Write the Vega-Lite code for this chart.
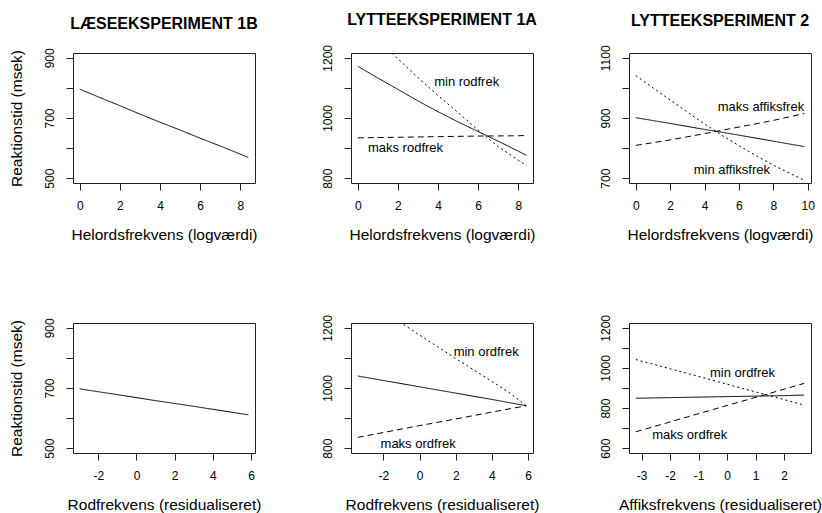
{
  "$schema": "https://vega.github.io/schema/vega-lite/v6.json",
  "background": "white",
  "padding": {"left": 8, "top": 11, "right": 5, "bottom": 5},
  "config": {
    "font": "Liberation Sans",
    "view": {"stroke": "#222", "strokeWidth": 1},
    "axis": {"grid": false, "domain": false, "ticks": true, "tickSize": 7, "tickColor": "#222", "labelFont": "Liberation Sans", "labelFontSize": 12, "labelColor": "#000", "titleFont": "Liberation Sans", "titleFontSize": 15.5, "titleFontWeight": "normal", "titleColor": "#000", "format": "d"},
    "axisX": {"labelPadding": 10, "titlePadding": 16},
    "axisY": {"labelAngle": -90, "labelAlign": "center", "labelBaseline": "bottom", "labelPadding": 10, "titlePadding": 19},
    "title": {"fontSize": 16, "font": "Liberation Sans", "fontWeight": "bold", "offset": 16, "color": "#000", "anchor": "middle"},
    "text": {"font": "Liberation Sans", "fontSize": 13, "color": "#000"}
  },
  "datasets": {
    "lines": [
      {"panel": "p1", "style": "solid", "x": 0, "y": 796}, {"panel": "p1", "style": "solid", "x": 1, "y": 768}, {"panel": "p1", "style": "solid", "x": 2, "y": 741}, {"panel": "p1", "style": "solid", "x": 3, "y": 713}, {"panel": "p1", "style": "solid", "x": 4, "y": 686}, {"panel": "p1", "style": "solid", "x": 5, "y": 660}, {"panel": "p1", "style": "solid", "x": 6, "y": 633}, {"panel": "p1", "style": "solid", "x": 7, "y": 607}, {"panel": "p1", "style": "solid", "x": 8, "y": 580}, {"panel": "p1", "style": "solid", "x": 8.4, "y": 569},
      {"panel": "p2", "style": "solid", "x": 0, "y": 1172}, {"panel": "p2", "style": "solid", "x": 1, "y": 1133}, {"panel": "p2", "style": "solid", "x": 2, "y": 1095}, {"panel": "p2", "style": "solid", "x": 3, "y": 1057}, {"panel": "p2", "style": "solid", "x": 4, "y": 1021}, {"panel": "p2", "style": "solid", "x": 5, "y": 987}, {"panel": "p2", "style": "solid", "x": 6, "y": 955}, {"panel": "p2", "style": "solid", "x": 7, "y": 923}, {"panel": "p2", "style": "solid", "x": 8, "y": 890}, {"panel": "p2", "style": "solid", "x": 8.4, "y": 876},
      {"panel": "p2", "style": "dotted", "x": 1, "y": 1262}, {"panel": "p2", "style": "dotted", "x": 2, "y": 1197}, {"panel": "p2", "style": "dotted", "x": 3, "y": 1134}, {"panel": "p2", "style": "dotted", "x": 4, "y": 1075}, {"panel": "p2", "style": "dotted", "x": 5, "y": 1018}, {"panel": "p2", "style": "dotted", "x": 6, "y": 960}, {"panel": "p2", "style": "dotted", "x": 7, "y": 905}, {"panel": "p2", "style": "dotted", "x": 8, "y": 860}, {"panel": "p2", "style": "dotted", "x": 8.4, "y": 843},
      {"panel": "p2", "style": "dashed", "x": 0, "y": 934}, {"panel": "p2", "style": "dashed", "x": 2, "y": 936}, {"panel": "p2", "style": "dashed", "x": 4, "y": 938}, {"panel": "p2", "style": "dashed", "x": 6, "y": 940}, {"panel": "p2", "style": "dashed", "x": 8, "y": 941}, {"panel": "p2", "style": "dashed", "x": 8.4, "y": 942},
      {"panel": "p3", "style": "dotted", "x": 0, "y": 1041}, {"panel": "p3", "style": "dotted", "x": 1, "y": 1000}, {"panel": "p3", "style": "dotted", "x": 2, "y": 960}, {"panel": "p3", "style": "dotted", "x": 3, "y": 920}, {"panel": "p3", "style": "dotted", "x": 4, "y": 880}, {"panel": "p3", "style": "dotted", "x": 5, "y": 843}, {"panel": "p3", "style": "dotted", "x": 6, "y": 808}, {"panel": "p3", "style": "dotted", "x": 7, "y": 775}, {"panel": "p3", "style": "dotted", "x": 8, "y": 743}, {"panel": "p3", "style": "dotted", "x": 9, "y": 715}, {"panel": "p3", "style": "dotted", "x": 9.8, "y": 693},
      {"panel": "p3", "style": "solid", "x": 0, "y": 901}, {"panel": "p3", "style": "solid", "x": 2, "y": 882}, {"panel": "p3", "style": "solid", "x": 4, "y": 862}, {"panel": "p3", "style": "solid", "x": 6, "y": 843}, {"panel": "p3", "style": "solid", "x": 8, "y": 823}, {"panel": "p3", "style": "solid", "x": 9.8, "y": 805},
      {"panel": "p3", "style": "dashed", "x": 0, "y": 809}, {"panel": "p3", "style": "dashed", "x": 2, "y": 827}, {"panel": "p3", "style": "dashed", "x": 4, "y": 848}, {"panel": "p3", "style": "dashed", "x": 6, "y": 870}, {"panel": "p3", "style": "dashed", "x": 8, "y": 892}, {"panel": "p3", "style": "dashed", "x": 9.8, "y": 915},
      {"panel": "p4", "style": "solid", "x": -2.97, "y": 697}, {"panel": "p4", "style": "solid", "x": -1, "y": 678}, {"panel": "p4", "style": "solid", "x": 1, "y": 658}, {"panel": "p4", "style": "solid", "x": 3, "y": 639}, {"panel": "p4", "style": "solid", "x": 5.85, "y": 611},
      {"panel": "p5", "style": "solid", "x": -3.42, "y": 1040}, {"panel": "p5", "style": "solid", "x": -2, "y": 1025}, {"panel": "p5", "style": "solid", "x": 0, "y": 1004}, {"panel": "p5", "style": "solid", "x": 2, "y": 983}, {"panel": "p5", "style": "solid", "x": 4, "y": 962}, {"panel": "p5", "style": "solid", "x": 5.9, "y": 941},
      {"panel": "p5", "style": "dotted", "x": -3.42, "y": 1312}, {"panel": "p5", "style": "dotted", "x": -2, "y": 1255}, {"panel": "p5", "style": "dotted", "x": 0, "y": 1176}, {"panel": "p5", "style": "dotted", "x": 2, "y": 1098}, {"panel": "p5", "style": "dotted", "x": 4, "y": 1022}, {"panel": "p5", "style": "dotted", "x": 5, "y": 983}, {"panel": "p5", "style": "dotted", "x": 5.9, "y": 941},
      {"panel": "p5", "style": "dashed", "x": -3.42, "y": 836}, {"panel": "p5", "style": "dashed", "x": -2, "y": 852}, {"panel": "p5", "style": "dashed", "x": 0, "y": 875}, {"panel": "p5", "style": "dashed", "x": 2, "y": 897}, {"panel": "p5", "style": "dashed", "x": 4, "y": 920}, {"panel": "p5", "style": "dashed", "x": 5.9, "y": 941},
      {"panel": "p6", "style": "dotted", "x": -3.2, "y": 1042}, {"panel": "p6", "style": "dotted", "x": -2, "y": 996}, {"panel": "p6", "style": "dotted", "x": 0, "y": 919}, {"panel": "p6", "style": "dotted", "x": 2, "y": 842}, {"panel": "p6", "style": "dotted", "x": 2.7, "y": 815},
      {"panel": "p6", "style": "solid", "x": -3.2, "y": 849}, {"panel": "p6", "style": "solid", "x": -2, "y": 852}, {"panel": "p6", "style": "solid", "x": 0, "y": 857}, {"panel": "p6", "style": "solid", "x": 2, "y": 862}, {"panel": "p6", "style": "solid", "x": 2.7, "y": 865},
      {"panel": "p6", "style": "dashed", "x": -3.2, "y": 682}, {"panel": "p6", "style": "dashed", "x": -2, "y": 731}, {"panel": "p6", "style": "dashed", "x": 0, "y": 813}, {"panel": "p6", "style": "dashed", "x": 2, "y": 894}, {"panel": "p6", "style": "dashed", "x": 2.7, "y": 923}
    ],
    "labels": [
      {"panel": "p2", "label": "min rodfrek", "x": 5.43, "y": 1120},
      {"panel": "p2", "label": "maks rodfrek", "x": 2.38, "y": 899},
      {"panel": "p3", "label": "maks affiksfrek", "x": 7.28, "y": 938},
      {"panel": "p3", "label": "min affiksfrek", "x": 5.59, "y": 726},
      {"panel": "p5", "label": "min ordfrek", "x": 3.68, "y": 1121},
      {"panel": "p5", "label": "maks ordfrek", "x": -0.08, "y": 813},
      {"panel": "p6", "label": "min ordfrek", "x": 0.54, "y": 973},
      {"panel": "p6", "label": "maks ordfrek", "x": -1.31, "y": 667}
    ]
  },
  "columns": 3,
  "spacing": {"row": 140, "column": 96},
  "bounds": "flush",
  "concat": [
    {
      "title": "LÆSEEKSPERIMENT 1B",
      "width": 182, "height": 130,
      "encoding": {
        "x": {"field": "x", "type": "quantitative", "scale": {"domain": [-0.336, 8.736], "nice": false, "zero": false}, "axis": {"values": [0, 2, 4, 6, 8], "title": "Helordsfrekvens (logværdi)"}},
        "y": {"field": "y", "type": "quantitative", "scale": {"domain": [484, 916], "nice": false, "zero": false}, "axis": {"values": [500, 600, 700, 800, 900], "labelExpr": "datum.value % 200 == 0 ? '' : datum.label", "title": "Reaktionstid (msek)"}}
      },
      "layer": [
        {"data": {"name": "lines"}, "transform": [{"filter": "datum.panel == 'p1'"}], "mark": {"type": "line", "color": "#000", "strokeWidth": 1, "clip": true},
         "encoding": {"strokeDash": {"field": "style", "type": "nominal", "scale": {"domain": ["solid", "dashed", "dotted"], "range": [[1, 0], [6, 4], [2, 3]]}, "legend": null}}}
      ]
    },
    {
      "title": "LYTTEEKSPERIMENT 1A",
      "width": 182, "height": 130,
      "encoding": {
        "x": {"field": "x", "type": "quantitative", "scale": {"domain": [-0.336, 8.736], "nice": false, "zero": false}, "axis": {"values": [0, 2, 4, 6, 8], "title": "Helordsfrekvens (logværdi)"}},
        "y": {"field": "y", "type": "quantitative", "scale": {"domain": [784, 1216], "nice": false, "zero": false}, "axis": {"values": [800, 900, 1000, 1100, 1200], "labelExpr": "datum.value % 200 == 100 ? '' : datum.label", "title": null}}
      },
      "layer": [
        {"data": {"name": "lines"}, "transform": [{"filter": "datum.panel == 'p2'"}], "mark": {"type": "line", "color": "#000", "strokeWidth": 1, "clip": true},
         "encoding": {"strokeDash": {"field": "style", "type": "nominal", "scale": {"domain": ["solid", "dashed", "dotted"], "range": [[1, 0], [6, 4], [2, 3]]}, "legend": null}}},
        {"data": {"name": "labels"}, "transform": [{"filter": "datum.panel == 'p2'"}], "mark": {"type": "text", "align": "center", "baseline": "middle"},
         "encoding": {"text": {"field": "label", "type": "nominal"}}}
      ]
    },
    {
      "title": "LYTTEEKSPERIMENT 2",
      "width": 182, "height": 130,
      "encoding": {
        "x": {"field": "x", "type": "quantitative", "scale": {"domain": [-0.392, 10.192], "nice": false, "zero": false}, "axis": {"values": [0, 2, 4, 6, 8, 10], "title": "Helordsfrekvens (logværdi)"}},
        "y": {"field": "y", "type": "quantitative", "scale": {"domain": [684, 1116], "nice": false, "zero": false}, "axis": {"values": [700, 800, 900, 1000, 1100], "labelExpr": "datum.value % 200 == 0 ? '' : datum.label", "title": null}}
      },
      "layer": [
        {"data": {"name": "lines"}, "transform": [{"filter": "datum.panel == 'p3'"}], "mark": {"type": "line", "color": "#000", "strokeWidth": 1, "clip": true},
         "encoding": {"strokeDash": {"field": "style", "type": "nominal", "scale": {"domain": ["solid", "dashed", "dotted"], "range": [[1, 0], [6, 4], [2, 3]]}, "legend": null}}},
        {"data": {"name": "labels"}, "transform": [{"filter": "datum.panel == 'p3'"}], "mark": {"type": "text", "align": "center", "baseline": "middle"},
         "encoding": {"text": {"field": "label", "type": "nominal"}}}
      ]
    },
    {
      "width": 182, "height": 130,
      "encoding": {
        "x": {"field": "x", "type": "quantitative", "scale": {"domain": [-3.32, 6.2], "nice": false, "zero": false}, "axis": {"values": [-2, 0, 2, 4, 6], "labelExpr": "'' + datum.value", "title": "Rodfrekvens (residualiseret)"}},
        "y": {"field": "y", "type": "quantitative", "scale": {"domain": [484, 916], "nice": false, "zero": false}, "axis": {"values": [500, 600, 700, 800, 900], "labelExpr": "datum.value % 200 == 0 ? '' : datum.label", "title": "Reaktionstid (msek)"}}
      },
      "layer": [
        {"data": {"name": "lines"}, "transform": [{"filter": "datum.panel == 'p4'"}], "mark": {"type": "line", "color": "#000", "strokeWidth": 1, "clip": true},
         "encoding": {"strokeDash": {"field": "style", "type": "nominal", "scale": {"domain": ["solid", "dashed", "dotted"], "range": [[1, 0], [6, 4], [2, 3]]}, "legend": null}}}
      ]
    },
    {
      "width": 182, "height": 130,
      "encoding": {
        "x": {"field": "x", "type": "quantitative", "scale": {"domain": [-3.79, 6.27], "nice": false, "zero": false}, "axis": {"values": [-2, 0, 2, 4, 6], "labelExpr": "'' + datum.value", "title": "Rodfrekvens (residualiseret)"}},
        "y": {"field": "y", "type": "quantitative", "scale": {"domain": [784, 1216], "nice": false, "zero": false}, "axis": {"values": [800, 900, 1000, 1100, 1200], "labelExpr": "datum.value % 200 == 100 ? '' : datum.label", "title": null}}
      },
      "layer": [
        {"data": {"name": "lines"}, "transform": [{"filter": "datum.panel == 'p5'"}], "mark": {"type": "line", "color": "#000", "strokeWidth": 1, "clip": true},
         "encoding": {"strokeDash": {"field": "style", "type": "nominal", "scale": {"domain": ["solid", "dashed", "dotted"], "range": [[1, 0], [6, 4], [2, 3]]}, "legend": null}}},
        {"data": {"name": "labels"}, "transform": [{"filter": "datum.panel == 'p5'"}], "mark": {"type": "text", "align": "center", "baseline": "middle"},
         "encoding": {"text": {"field": "label", "type": "nominal"}}}
      ]
    },
    {
      "width": 182, "height": 130,
      "encoding": {
        "x": {"field": "x", "type": "quantitative", "scale": {"domain": [-3.44, 2.94], "nice": false, "zero": false}, "axis": {"values": [-3, -2, -1, 0, 1, 2], "labelExpr": "'' + datum.value", "title": "Affiksfrekvens (residualiseret)"}},
        "y": {"field": "y", "type": "quantitative", "scale": {"domain": [576, 1224], "nice": false, "zero": false}, "axis": {"values": [600, 700, 800, 900, 1000, 1100, 1200], "labelExpr": "datum.value % 200 == 100 ? '' : datum.label", "title": null}}
      },
      "layer": [
        {"data": {"name": "lines"}, "transform": [{"filter": "datum.panel == 'p6'"}], "mark": {"type": "line", "color": "#000", "strokeWidth": 1, "clip": true},
         "encoding": {"strokeDash": {"field": "style", "type": "nominal", "scale": {"domain": ["solid", "dashed", "dotted"], "range": [[1, 0], [6, 4], [2, 3]]}, "legend": null}}},
        {"data": {"name": "labels"}, "transform": [{"filter": "datum.panel == 'p6'"}], "mark": {"type": "text", "align": "center", "baseline": "middle"},
         "encoding": {"text": {"field": "label", "type": "nominal"}}}
      ]
    }
  ]
}
